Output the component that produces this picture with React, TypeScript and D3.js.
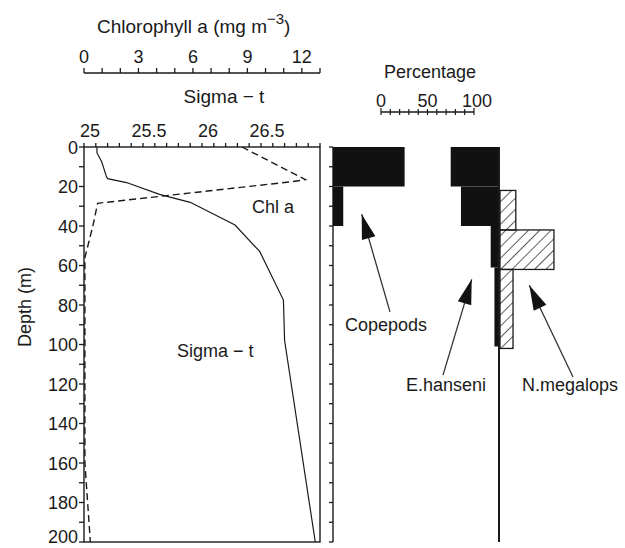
import * as d3 from "d3";

// sigma-t profile (depth m, kg m-3 - 1000)
const sigmaDepth = [0, 3, 7.5, 15, 16, 18, 24, 28, 39.5, 53, 77.5, 98, 200];
const sigmaT = [25.11, 25.11, 25.15, 25.19, 25.2, 25.36, 25.64, 25.9, 26.28, 26.49, 26.69, 26.7, 26.96];

// chlorophyll a profile (mg m-3)
const chlDepth = [0, 16.5, 17.5, 28.5, 39.5, 50.5, 56, 100, 160, 200];
const chlValue = [8.7, 12.2, 11.5, 0.75, 0.5, 0.2, 0.05, 0.05, 0.05, 0.35];

// percentage by depth layer
const copepodTop = [0, 20];
const copepodBottom = [20, 40];
const copepodPct = [77, 11];

const hanseniTop = [0, 20, 40, 61];
const hanseniBottom = [20, 40, 61, 101];
const hanseniPct = [53, 42, 10, 6];

const megalopsTop = [22, 42, 62];
const megalopsBottom = [42, 62, 102];
const megalopsPct = [17, 58, 14];

const depthTicks = d3.range(0, 201, 10);
const chlTicks = d3.range(0, 14, 1);
const chlLabels = [0, 3, 6, 9, 12];
const sigmaTicks = d3.range(25, 27.001, 0.1);
const sigmaLabels = [25, 25.5, 26, 26.5];
const pctTicks = d3.range(0, 101, 10);
const pctLabels = [0, 50, 100];

const W = 625;
const H = 548;
const font = "'Liberation Sans', Arial, sans-serif";
const ink = "#1a1a1a";

export default function App() {
  const y = d3.scaleLinear().domain([0, 200]).range([147, 542]);
  const xChl = d3.scaleLinear().domain([0, 13]).range([84, 320]);
  const xSig = d3.scaleLinear().domain([25, 27]).range([84, 320]);
  const pctW = d3.scaleLinear().domain([0, 100]).range([0, 93]);
  const xPctBar = d3.scaleLinear().domain([0, 100]).range([381, 474]);

  const copeBase = 333;
  const euBase = 500;

  const sigmaLine = d3
    .line<number>()
    .x((d, i) => xSig(sigmaT[i]))
    .y((d) => y(d));
  const chlLine = d3
    .line<number>()
    .x((d, i) => xChl(chlValue[i]))
    .y((d) => y(d));

  const arrows = [
    { tipX: 361.7, tipD: 34, tailX: 390, tailD: 83.5 },
    { tipX: 471.7, tipD: 67, tailX: 443, tailD: 115.5 },
    { tipX: 529.3, tipD: 70, tailX: 573, tailD: 116.5 },
  ];

  const arrowHead = (a) => {
    const tx = a.tipX, ty = y(a.tipD);
    const dx = a.tailX - tx, dy = y(a.tailD) - ty;
    const len = Math.hypot(dx, dy);
    const ux = dx / len, uy = dy / len;
    const L = 25, hw = 7;
    const bx = tx + ux * L, by = ty + uy * L;
    return `M${tx},${ty}L${bx - uy * hw},${by + ux * hw}L${bx + uy * hw},${by - ux * hw}Z`;
  };

  return (
    <svg width={W} height={H} style={{ position: "absolute", left: 0, top: 0 }}>
      <defs>
        <pattern id="hatch" patternUnits="userSpaceOnUse" width={8} height={8} patternTransform="rotate(45)">
          <line x1={0} y1={0} x2={0} y2={8} stroke={ink} strokeWidth={1.4} />
        </pattern>
      </defs>
      <rect width={W} height={H} fill="#fff" />
      <g fontFamily={font} fill={ink}>
        {/* chlorophyll axis */}
        <text x={97} y={33} fontSize={19}>
          Chlorophyll a (mg m<tspan dy={-9} fontSize={15}>−3</tspan><tspan dy={9}>)</tspan>
        </text>
        <line x1={xChl(0)} x2={xChl(13)} y1={73} y2={73} stroke={ink} strokeWidth={1.4} />
        {chlTicks.map((t) => (
          <line key={t} x1={xChl(t)} x2={xChl(t)} y1={68} y2={73} stroke={ink} strokeWidth={1.3} />
        ))}
        {chlLabels.map((t) => (
          <text key={t} x={xChl(t)} y={63} fontSize={18} textAnchor="middle">{t}</text>
        ))}

        {/* sigma-t axis */}
        <text x={224} y={103} fontSize={19} textAnchor="middle">Sigma − t</text>
        {sigmaTicks.map((t, i) => (
          <line key={i} x1={xSig(t)} x2={xSig(t)} y1={143} y2={147} stroke={ink} strokeWidth={1.3} />
        ))}
        {sigmaLabels.map((t) => (
          <text key={t} x={xSig(t) + 6} y={137} fontSize={18} textAnchor="middle">{t}</text>
        ))}

        {/* panel box */}
        <rect x={84} y={y(0)} width={236} height={y(200) - y(0)} fill="none" stroke={ink} strokeWidth={1.4} />

        {/* depth axis */}
        {depthTicks.map((t) => (
          <line key={t} x1={79} x2={84} y1={y(t)} y2={y(t)} stroke={ink} strokeWidth={1.3} />
        ))}
        {depthTicks.filter((t) => t % 20 === 0).map((t) => (
          <text key={t} x={78} y={Math.min(y(t) + 6.5, 543)} fontSize={18} textAnchor="end">{t}</text>
        ))}
        <text transform="translate(31,307) rotate(-90)" fontSize={18} textAnchor="middle">Depth (m)</text>

        {/* profiles */}
        <path d={sigmaLine(sigmaDepth) || ""} fill="none" stroke={ink} strokeWidth={1.2} />
        <path d={chlLine(chlDepth) || ""} fill="none" stroke={ink} strokeWidth={1.4} strokeDasharray="7,4" />
        <text x={252} y={213} fontSize={18}>Chl a</text>
        <text x={177} y={357} fontSize={18}>Sigma − t</text>

        {/* percentage scale bar */}
        <text x={430} y={78} fontSize={18} textAnchor="middle">Percentage</text>
        <line x1={xPctBar(0)} x2={xPctBar(100)} y1={112} y2={112} stroke={ink} strokeWidth={1.3} />
        {pctTicks.map((t) => (
          <line key={t} x1={xPctBar(t)} x2={xPctBar(t)} y1={t % 100 === 0 ? 108 : 109} y2={115} stroke={ink} strokeWidth={1.2} />
        ))}
        {pctLabels.map((t) => (
          <text key={t} x={xPctBar(t) + (t === 100 ? 3 : 0)} y={107} fontSize={18} textAnchor="middle">{t}</text>
        ))}

        {/* copepods column */}
        <line x1={copeBase} x2={copeBase} y1={y(0)} y2={y(200)} stroke={ink} strokeWidth={1.4} />
        {depthTicks.map((t) => (
          <line key={t} x1={copeBase - 4} x2={copeBase} y1={y(t)} y2={y(t)} stroke={ink} strokeWidth={1.3} />
        ))}
        {copepodPct.map((p, i) => (
          <rect key={i} x={copeBase} y={y(copepodTop[i])} width={pctW(p)} height={y(copepodBottom[i]) - y(copepodTop[i])} fill="#111" />
        ))}

        {/* euphausiids column */}
        {hanseniPct.map((p, i) => (
          <rect key={i} x={euBase - pctW(p)} y={y(hanseniTop[i])} width={pctW(p)} height={y(hanseniBottom[i]) - y(hanseniTop[i])} fill="#111" />
        ))}
        {megalopsPct.map((p, i) => (
          <rect key={i} x={euBase} y={y(megalopsTop[i])} width={pctW(p)} height={y(megalopsBottom[i]) - y(megalopsTop[i])} fill="url(#hatch)" stroke={ink} strokeWidth={1.3} />
        ))}
        <line x1={euBase - 1} x2={euBase - 1} y1={y(0)} y2={y(200)} stroke={ink} strokeWidth={2} />

        {/* arrows */}
        {arrows.map((a, i) => (
          <g key={i}>
            <line x1={a.tipX} y1={y(a.tipD)} x2={a.tailX} y2={y(a.tailD)} stroke="#333" strokeWidth={1.3} />
            <path d={arrowHead(a)} fill="#111" />
          </g>
        ))}
        <text x={345} y={331} fontSize={18}>Copepods</text>
        <text x={406} y={391} fontSize={18}>E.hanseni</text>
        <text x={522} y={391} fontSize={18}>N.megalops</text>
      </g>
    </svg>
  );
}
